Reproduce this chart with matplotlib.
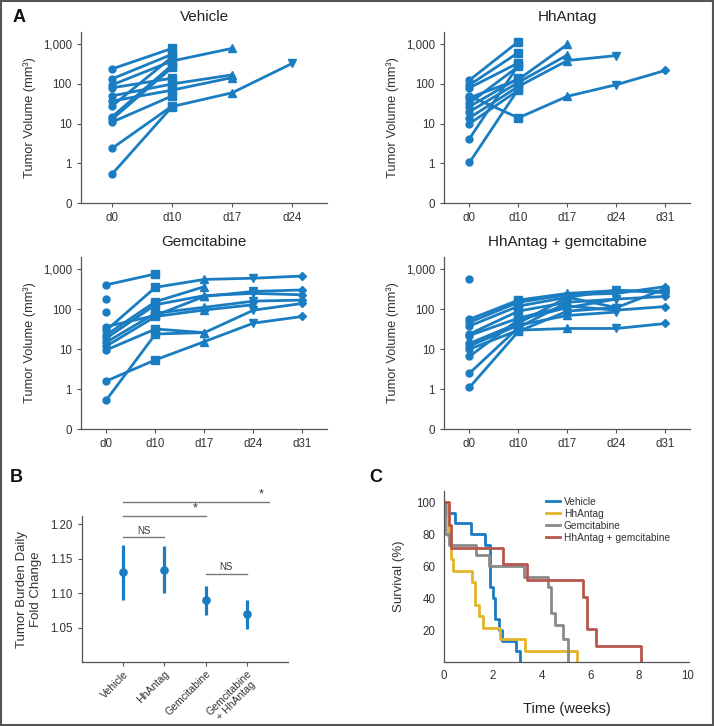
import numpy as np
import matplotlib
matplotlib.use("Agg")
import matplotlib.pyplot as plt
from matplotlib.patches import Rectangle

plt.rcParams["font.family"] = ["Liberation Sans", "DejaVu Sans"]

nan = np.nan
BLUE = "#1b7dc1"
W, H = 714, 726

# ---------------- panel A data (tumor volume per mouse, mm3) ----------------
days4 = ["d0", "d10", "d17", "d24"]
days5 = ["d0", "d10", "d17", "d24", "d31"]

vehicle = [
    [240, 790, nan, nan],
    [135, 560, nan, nan],
    [95, 380, 790, nan],
    [80, 140, nan, nan],
    [50, 100, 170, nan],
    [37, 70, 145, nan],
    [28, 480, nan, nan],
    [15, 300, nan, nan],
    [13, 260, nan, nan],
    [11, 50, nan, nan],
    [2.4, 28, nan, nan],
    [0.54, 27, 60, 330],
]
hhantag = [
    [125, 1170, nan, nan, nan],
    [95, 620, nan, nan, nan],
    [80, 340, nan, nan, nan],
    [50, 14, 49, 96, 220],
    [45, 130, 1000, nan, nan],
    [33, 280, nan, nan, nan],
    [27, 140, nan, nan, nan],
    [20, 110, 540, nan, nan],
    [14, 87, 390, 520, nan],
    [10, 70, nan, nan, nan],
    [4.2, 300, nan, nan, nan],
    [1.05, 75, nan, nan, nan],
]
gemcitabine = [
    [410, 770, nan, nan, nan],
    [185, nan, nan, nan, nan],
    [85, nan, nan, nan, nan],
    [37, 70, 210, 280, 305],
    [30, 355, 560, 600, 680],
    [23, 155, 370, nan, nan],
    [19, 130, 220, 250, 230],
    [15, 80, 112, 160, 170],
    [12, 66, 96, 130, nan],
    [9.6, 32, 26, 95, 140],
    [1.6, 5.4, 15.5, 45, 66],
    [0.54, 24, 26, nan, nan],
]
combo = [
    [560, nan, nan, nan, nan],
    [56, 170, 250, 295, 280],
    [47, 150, 230, 250, 370],
    [38, 120, 200, 110, 330],
    [24, 90, 150, 180, 210],
    [22, 60, 120, 95, 117],
    [14, 45, 200, 300, 260],
    [12, 40, 70, 85, nan],
    [10, 30, 33, 33, 44],
    [6.6, 55, 110, 180, nan],
    [2.5, 35, 150, nan, nan],
    [1.1, 28, 90, 110, nan],
]

# ---------------- panel B data ----------------
b_groups = ["Vehicle", "HhAntag", "Gemcitabine", "Gemcitabine\n+ HhAntag"]
b_mean = [1.130, 1.134, 1.090, 1.070]
b_lo = [1.090, 1.100, 1.068, 1.048]
b_hi = [1.170, 1.169, 1.111, 1.090]

# ---------------- panel C data (Kaplan-Meier steps) ----------------
km_veh_t = [0, 0.08, 0.45, 1.1, 1.7, 1.88, 2.0, 2.08, 2.26, 2.36, 2.95, 3.1]
km_veh_s = [100, 93.3, 86.7, 80, 73.3, 46.7, 40, 26.7, 20, 13.3, 6.7, 0]
km_hh_t = [0, 0.15, 0.3, 0.38, 1.14, 1.28, 1.42, 1.6, 2.29, 3.32, 5.45]
km_hh_s = [100, 78.6, 64.3, 57.1, 50, 35.7, 28.6, 21.4, 14.3, 7.1, 0]
km_gem_t = [0, 0.05, 0.2, 1.3, 1.85, 3.3, 4.27, 4.38, 4.55, 4.89, 5.07]
km_gem_s = [100, 80, 73.3, 66.7, 60, 53.3, 46.7, 30.8, 23.3, 14.6, 0]
km_combo_t = [0, 0.2, 0.3, 2.4, 3.4, 5.7, 5.87, 6.25, 8.1]
km_combo_s = [100, 85.7, 71.4, 61.2, 51, 40.8, 20.4, 10.2, 0]

fig = plt.figure(figsize=(W / 100, H / 100), dpi=100)


def px_axes(l, t, r, b):
    return fig.add_axes([l / W, 1 - b / H, (r - l) / W, (b - t) / H])


def style(ax, size=8.3):
    for s in ("top", "right"):
        ax.spines[s].set_visible(False)
    for s in ("left", "bottom"):
        ax.spines[s].set_color("#555555")
        ax.spines[s].set_linewidth(0.9)
    ax.tick_params(colors="#555555", labelcolor="#333333", labelsize=size,
                   length=3, width=0.8)


MARKERS = ["o", "s", "^", "v", "D"]
MSIZE = [5.0, 5.6, 5.4, 5.4, 4.0]


def volume_panel(ax, mice, days, title, xmax):
    x = np.arange(len(days))
    for m in mice:
        v = np.array(m, dtype=float)
        ax.plot(x, v, color=BLUE, lw=2.0, solid_capstyle="round")
        for i in range(len(days)):
            if not np.isnan(v[i]):
                ax.plot(x[i], v[i], marker=MARKERS[i], ms=MSIZE[i], color=BLUE,
                        mec=BLUE, ls="none")
    ax.set_yscale("log")
    ax.set_ylim(0.1, 2040)
    ax.set_yticks([0.1, 1, 10, 100, 1000])
    ax.set_yticklabels(["0", "1", "10", "100", "1,000"])
    ax.minorticks_off()
    ax.set_xticks(x)
    ax.set_xticklabels(days)
    ax.set_xlim(-0.52, xmax)
    ax.set_title(title, fontsize=11, pad=8, color="#222222")
    ax.set_ylabel("Tumor Volume (mm³)", fontsize=9.3, color="#333333", labelpad=5)
    style(ax)


ax1 = px_axes(81, 32, 327, 203)
volume_panel(ax1, vehicle, days4, "Vehicle", 3.58)
ax2 = px_axes(444, 32, 690, 203)
volume_panel(ax2, hhantag, days5, "HhAntag", 4.5)
ax3 = px_axes(81, 257, 327, 429)
volume_panel(ax3, gemcitabine, days5, "Gemcitabine", 4.5)
ax4 = px_axes(444, 257, 690, 429)
volume_panel(ax4, combo, days5, "HhAntag + gemcitabine", 4.5)

# ---------------- panel B ----------------
axb = px_axes(82, 516, 288, 662)
xb = np.arange(len(b_groups))
mean = np.array(b_mean)
axb.errorbar(xb, mean, yerr=[mean - np.array(b_lo), np.array(b_hi) - mean],
             fmt="o", color=BLUE, ms=5.2, elinewidth=2.3, capsize=0)
axb.set_xlim(-1, 4)
axb.set_ylim(1.0, 1.212)
axb.set_yticks([1.05, 1.10, 1.15, 1.20])
axb.set_yticklabels(["1.05", "1.10", "1.15", "1.20"])
axb.set_xticks(xb)
axb.set_ylabel("Tumor Burden Daily\nFold Change", fontsize=9.5, color="#333333",
               labelpad=6)
style(axb)
axb.set_xticklabels(b_groups, rotation=45, ha="right", rotation_mode="anchor",
                    multialignment="center", fontsize=7.6, linespacing=1.0)
axb.tick_params(axis="x", pad=2)

GRAY = "#777777"
sig = [(0, 1, 1.181, "NS", 0.5, 7), (0, 2, 1.2126, "*", 1.75, 9),
       (0, 3.53, 1.233, "*", 3.35, 9), (2, 3, 1.1285, "NS", 2.5, 7)]
for x0, x1, y, lab, xt, fs in sig:
    axb.plot([x0, x1], [y, y], color=GRAY, lw=1.0, clip_on=False)
    axb.text(xt, y + 0.002, lab, ha="center", va="bottom", fontsize=fs,
             color="#333333", clip_on=False)

# ---------------- panel C ----------------
axc = px_axes(444, 491, 689, 662)
curves = [(km_veh_t, km_veh_s, "#1a7bc0", "Vehicle"),
          (km_hh_t, km_hh_s, "#e3b52a", "HhAntag"),
          (km_gem_t, km_gem_s, "#8a8a8a", "Gemcitabine"),
          (km_combo_t, km_combo_s, "#b5574c", "HhAntag + gemcitabine")]
for t, s, c, lab in curves:
    axc.step(t, s, where="post", color=c, lw=2.0, label=lab)
axc.set_xlim(0, 10.05)
axc.set_ylim(0, 107)
axc.set_xticks([0, 2, 4, 6, 8, 10])
axc.set_yticks([20, 40, 60, 80, 100])
axc.set_xlabel("Time (weeks)", fontsize=10.5, color="#222222", labelpad=14)
axc.set_ylabel("Survival (%)", fontsize=9.5, color="#333333", labelpad=8)
style(axc)
axc.tick_params(length=0, pad=6)
axc.legend(loc="upper right", bbox_to_anchor=(0.96, 1.02), frameon=False,
           fontsize=7.3, handlelength=1.4, handletextpad=0.4, labelspacing=0.2,
           labelcolor="#333333")

# panel letters and frame
for lab, x, y in [("A", 13, 17), ("B", 10, 477), ("C", 369, 477)]:
    fig.text(x / W, 1 - y / H, lab, fontsize=13, fontweight="bold",
             ha="left", va="center", color="#111111")
fig.patches.append(Rectangle((0.001, 0.001), 0.998, 0.998, transform=fig.transFigure,
                             fill=False, edgecolor="#555555", lw=1.5))

fig.savefig("out.png", dpi=100)
